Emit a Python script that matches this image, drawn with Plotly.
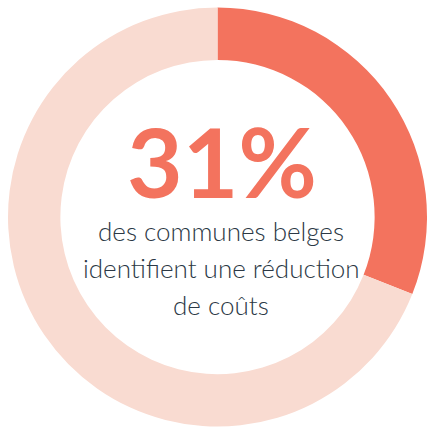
import plotly.graph_objects as go

labels = ["identifient une réduction de coûts", "autres communes"]
values = [31, 69]
colors = ["#F3735E", "#F9DBD1"]
big_label = "31%"
lines = ["des communes belges", "identifient une réduction", "de coûts"]

W, H = 427, 429

fig = go.Figure(go.Pie(
    labels=labels, values=values, hole=0.75, sort=False,
    direction="clockwise", rotation=0, textinfo="none",
    hoverinfo="label+percent",
    marker=dict(colors=colors, line=dict(width=0)),
    domain=dict(x=[8 / W, 1.0], y=[2.5 / H, 421.5 / H]),
    showlegend=False,
))

def py(y):
    return 1 - y / H

fig.add_annotation(x=222 / W, y=py(160), xref="paper", yref="paper",
                   text=big_label, showarrow=False, xanchor="center", yanchor="middle",
                   font=dict(family="Lato", size=96, color="#F3735E", weight=700))
for txt, yc in zip(lines, [231, 268, 305]):
    fig.add_annotation(x=221 / W, y=py(yc), xref="paper", yref="paper",
                       text=txt, showarrow=False, xanchor="center", yanchor="middle",
                       font=dict(family="Lato", size=26, color="#2B3845", weight=300))

fig.update_layout(width=W, height=H, margin=dict(l=0, r=0, t=0, b=0),
                  paper_bgcolor="white", plot_bgcolor="white")
fig.write_html("out.html")
